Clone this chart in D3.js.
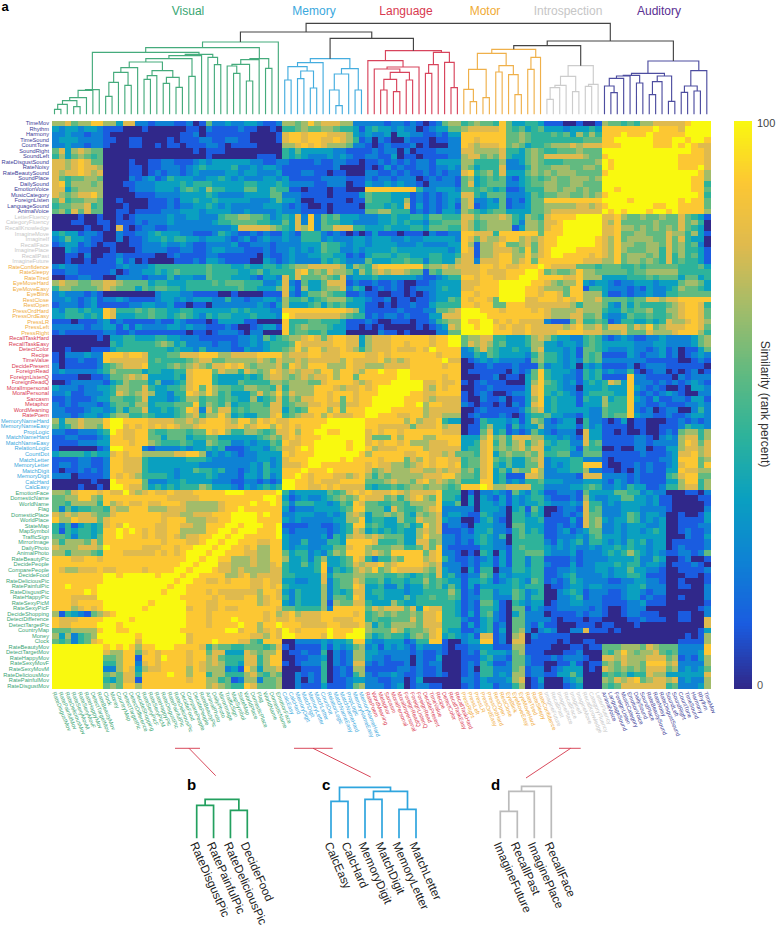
<!DOCTYPE html>
<html><head><meta charset="utf-8">
<script src="https://cdn.jsdelivr.net/npm/d3@7"></script>
<style>html,body{margin:0;padding:0;background:#fff}svg{display:block}text{font-family:"Liberation Sans",Arial,sans-serif}</style>
</head><body><svg id="c" width="776" height="927"></svg>
<script>
// ---------- labels, top-to-bottom as on the left axis ----------
const auditoryLabels = ["TimeMov","Rhythm","Harmony","TimeSound","CountTone","SoundRight","SoundLeft","RateDisgustSound","RateNoisy","RateBeautySound","SoundPlace","DailySound","EmotionVoice","MusicCategory","ForeignListen","LanguageSound","AnimalVoice"];
const introspectionLabels = ["LetterFluency","CategoryFluency","RecallKnowledge","ImagineMove","ImagineIf","RecallFace","ImaginePlace","RecallPast","ImagineFuture"];
const motorLabels = ["RateConfidence","RateSleepy","RateTired","EyeMoveHard","EyeMoveEasy","EyeBlink","RestClose","RestOpen","PressOrdHard","PressOrdEasy","PressLR","PressLeft","PressRight"];
const languageLabels = ["RecallTaskHard","RecallTaskEasy","DetectColor","Recipe","TimeValue","DecidePresent","ForeignRead","ForeignListenQ","ForeignReadQ","MoralImpersonal","MoralPersonal","Sarcasm","Metaphor","WordMeaning","RatePoem"];
const memoryLabels = ["MemoryNameHard","MemoryNameEasy","PropLogic","MatchNameHard","MatchNameEasy","RelationLogic","CountDot","MatchLetter","MemoryLetter","MatchDigit","MemoryDigit","CalcHard","CalcEasy"];
const visualLabels = ["EmotionFace","DomesticName","WorldName","Flag","DomesticPlace","WorldPlace","StateMap","MapSymbol","TrafficSign","MirrorImage","DailyPhoto","AnimalPhoto","RateBeautyPic","DecidePeople","ComparePeople","DecideFood","RateDeliciousPic","RatePainfulPic","RateDisgustPic","RateHappyPic","RateSexyPicM","RateSexyPicF","DecideShopping","DetectDifference","DetectTargetPic","CountryMap","Money","Clock","RateBeautyMov","DetectTargetMov","RateHappyMov","RateSexyMovF","RateSexyMovM","RateDeliciousMov","RatePainfulMov","RateDisgustMov"];

// ---------- similarity, one digit per cell (0 = lowest, 9 = highest rank decile) ----------
// Each row lists columns left to right; the matrix is mirrored across its anti-diagonal.
const auditoryRows = [
"667566 886637 722122 211201 522322 332112 665686 7776622 22212 21210 12566 456554 8533443 1110 01001 655454 667777 78999",
"323323 321110 001000 000110 211112 110010 445655 6654431 34332 32201 23355 677777 8545345 3332 33343 888888 889888 79998",
"223221 221000 000000 001120 111111 100001 788788 8777632 32230 33221 12133 888888 8556544 4545 36464 888988 898888 89998",
"233322 221100 110000 101112 211221 100001 788788 7787641 20210 02111 01122 887888 8556544 4444 44555 889999 998889 98998",
"223221 221000 110010 110111 221011 110000 667878 7666522 10121 11201 00022 876777 8565344 5666 76777 888999 998889 89998",
"573676 550000 000000 000010 111000 000000 435333 3322111 12122 02011 12222 776666 7443565 4455 56555 999999 999999 98887",
"463565 450000 000000 000000 100000 001110 434322 2323211 22113 01101 11122 677565 7433565 7777 77655 899999 999999 98887",
"776787 550000 100112 211123 233333 322112 211112 1122110 11212 12122 13333 664444 6223565 4445 55556 989999 999999 98888",
"776787 760000 110112 221234 333342 232332 111111 1120000 10131 21122 12232 653444 7222465 5666 55665 989999 999999 98887",
"767787 670000 110121 221232 222332 332223 111221 1011000 22112 12112 12122 784564 7333565 6566 65555 899999 999999 98887",
"754556 650000 212312 433322 334323 222332 311111 2222111 21221 22201 21221 563454 5213454 5655 66656 999999 999999 98887",
"784666 560001 122233 334344 433333 443334 322221 1222011 32232 32210 22221 573455 5223455 6655 66555 999999 999999 88887",
"773566 660000 122233 324543 644333 553354 411011 1011000 88888 88842 23332 554543 4112444 6656 65655 998999 999989 88873",
"765677 860000 011122 223333 432222 333355 222111 1011113 54443 33121 21233 774355 5222354 5566 55656 899999 999988 88876",
"574556 650010 000111 213343 343333 322235 332001 1111011 54443 36121 21232 672232 5121355 8888 88888 999999 998888 88873",
"455667 450001 000111 212233 432322 222333 212100 1011110 44434 37131 21231 671233 5122355 6666 67767 899999 988888 88886",
"564757 550011 011112 223332 333322 322223 222111 1011111 55664 44121 21332 654345 5333355 6777 77777 999999 988888 88885"
];
const introspectionRows = [
"000010 010010 122222 322332 224556 655423 437282 5453332 22334 33443 55444 775666 7643654 7888 89999",
"000110 011011 121222 322222 234455 554433 537282 5443322 22334 34332 44555 764566 6642665 7789 99999",
"000001 001071 012211 222222 222237 777765 437682 5577744 33343 33443 55544 764566 6613665 7889 99999",
"343312 210021 122343 332211 124321 121211 321444 2121010 13111 01110 21122 887774 8888885 8889 99999",
"235332 110020 112334 344332 333212 312322 322444 2322233 23332 23223 33332 875766 7886767 8899 99998",
"123312 101100 112223 223211 222231 122212 222333 5443233 23333 22232 22233 861667 8556757 8899 99999",
"003211 000100 012222 112211 233222 111212 232323 5442232 33334 33333 33323 871667 7765857 8999 99999",
"001102 001121 111100 121111 221111 110211 232233 4433121 34443 44333 44334 771667 8866867 8999 99999",
"001001 011131 201000 011121 332111 100321 232222 4343222 53334 45442 44336 772777 8867858 8999 99999"
];
const motorRows = [
"232211 111123 222344 444444 544433 433443 456677 7776365 47888 88885 66767 777887 8778889",
"112211 111201 223343 454444 544443 345344 447856 5766536 46767 76551 54666 777877 7888998",
"001122 110022 221222 423322 544433 321332 747555 6547233 34333 33321 12344 887887 7889988",
"676655 667765 555344 333444 454555 444223 721533 5777121 12112 10011 23333 777888 9999888",
"466555 567655 535455 443444 444445 443335 731633 5667243 01212 10122 23433 778888 9999878",
"232221 210000 000023 332211 110010 000111 721355 6544112 11001 10101 23333 887888 9998887",
"223212 312232 111123 323233 322422 122332 644534 5666433 21120 11011 23354 878875 9997878",
"122212 311111 223322 311011 022222 223213 633345 3545333 11010 11211 34444 887885 9998878",
"324434 338744 454544 334433 333343 433322 888888 8888763 11111 21112 25567 999888 8887878",
"334443 438733 344544 345432 434433 343332 987777 7776544 12122 12111 33777 999988 8887888",
"111011 123121 111121 132111 013333 110000 844455 4443111 21001 11011 24566 988777 7777777",
"222221 223313 132222 332322 111210 012331 845655 5433110 10100 00010 12376 998877 8777766",
"121111 112211 211111 111011 012221 022000 845544 5333000 00211 01000 02255 998877 7777766"
];
const languageRows = [
"000000 010334 433344 332221 111112 232534 566787 5788773 67778 88888 78899",
"000000 000434 444456 534222 212212 232344 458777 7788773 67778 87888 78898",
"001000 111344 444444 343324 222211 322344 568688 6778764 67778 77787 98878",
"102223 228887 887444 557778 886677 778888 677788 7778888 77878 88888 87787",
"101121 128777 777454 444567 755666 667657 667677 7776877 77867 67888 88878",
"201111 124567 778444 565676 577878 656667 587688 8666877 66677 77888 87876",
"232222 234655 553443 344788 857664 765687 676776 8868876 88988 99888 88788",
"111100 112556 767333 343788 843333 434677 656767 7868858 88888 99888 88876",
"001222 221346 555352 234788 843335 444466 566655 7888876 78889 99998 88787",
"322212 233466 557433 445785 865544 665547 466668 8876778 78999 99988 88877",
"223112 223476 567633 244876 864533 357568 576668 8788878 88999 99888 87786",
"112111 233554 457333 234664 554543 363457 465778 8785878 89999 99888 77887",
"212122 212455 466344 455584 654634 455477 456677 8775778 89999 88877 88776",
"221112 332353 557334 345872 757745 455577 354588 8685888 99998 88887 78887",
"222123 323566 445433 345674 668634 335578 456778 6877788 99988 88788 78886"
];
const memoryRows = [
"636676 668998 888777 766767 888768 868787 788888 8999999",
"534676 658997 878787 876678 888778 678868 787888 9999999",
"221122 234987 788544 555455 878644 665457 786889 9889998",
"112211 123887 788553 555344 553333 334565 787888 9999988",
"111122 233888 788654 445433 654422 323354 877889 9998888",
"100000 012998 882122 223233 434111 233245 778989 9987788",
"344443 433787 886666 677886 232321 223333 878889 9887778",
"111122 112887 774333 333444 322222 223323 788899 9887788",
"122122 112887 774333 333332 222222 232423 777899 9887887",
"101121 212887 774333 323354 434221 232433 888999 9888988",
"222011 112878 764444 323333 432221 332423 889999 9988888",
"000000 100988 885222 334333 322211 221212 999888 8888888",
"000010 010998 775343 434446 533321 323434 999888 8888878"
];
const visualRows = [
"665788 878779 767877 877788 888999 888889",
"556688 658888 888888 777778 888888 888998",
"554666 648678 778778 887666 667888 898888",
"525344 554766 888666 777666 667889 888877",
"767677 655788 888887 776677 788899 998888",
"866877 757888 888887 888666 778899 988886",
"424134 347879 888877 887766 888998 888876",
"414344 348898 987877 886666 889987 888776",
"554244 358898 887877 876778 899878 888676",
"646665 758888 888887 888778 998888 888877",
"766677 769888 887778 878899 988888 788877",
"664666 548887 777787 878999 888888 778765",
"888778 878888 888888 888998 888888 887876",
"888888 888888 888888 889988 888887 778777",
"876677 787788 887888 899888 888766 778666",
"888888 889989 999989 998888 888888 888787",
"888888 889999 999999 988888 878778 878888",
"889888 899999 999999 888888 888888 888888",
"888889 899999 999998 888888 787777 888776",
"888777 799999 999998 888888 788888 888777",
"888788 889999 999888 888877 877777 778775",
"888678 789999 998888 888887 887788 877765",
"614321 567899 998888 888787 788866 888876",
"877788 889999 888888 888888 888888 888888",
"877888 899989 988888 888888 877778 788887",
"555666 689989 888899 887666 778888 888766",
"636245 699988 888888 788668 888885 888876",
"545245 789988 888888 777767 788777 888786",
"99999999","9999999","999999","99999","9999","999","99","9"
];

// ---------- dendrogram merges: [height, left, right], 0 = leaf, leaves in left-to-right column order ----------
const visualTree = [217,
 [200,
  [186,
   [74,[72,[50,[41,[30,[15,0,0],0],[23,0,0]],0],0],0],
   [180,
    [176,
     [167,
      [157,
       [140,[126,[96,[54,0,0],0],[87,0,0]],0],
       [131,[116,[105,0,0],0],[111,[93,0,0],[81,0,0]]]],
      [114,0,0]],
     0],
    [171,0,[149,0,0]]]],
  [167,[164,[150,[145,0,[123,0,0]],[100,0,0]],0],[138,0,0]]],
 0];
const memoryTree = [167,
 [155,[143,[103,0,0],[130,[107,0,0],[79,0,0]]],0],
 [137,[121,[73,0,[26,0,0]],0],[73,0,0]]];
const languageTree = [191,
 [161,0,[142,[136,0,[126,[105,[73,0,0],[68,0,0]],[103,0,0]]],0]],
 [186,[149,[123,0,0],0],[156,0,[80,0,0]]]];
const motorTree = [195,
 [183,[135,[75,0,[38,0,0]],[50,0,0]],[146,[127,0,0],[119,0,[59,0,0]]]],
 [171,[135,0,0],0]];
const introspectionTree = [146,
 [114,[87,[80,[45,0,0],0],0],[68,0,0]],
 [90,[84,0,0],0]];
const auditoryTree = [160,
 [123,
  [117,[115,[108,[85,0,[65,0,0]],0],0],[94,0,0]],
  [115,[98,[59,0,0],0],[39,0,0]]],
 [131,[85,[66,0,0],[70,0,0]],0]];
const topHeights = {root:273, visualMemLang:247, memLang:228, rest:220, motorIntro:206};

const panelBLabels = ["RateDisgustPic","RatePainfulPic","RateDeliciousPic","DecideFood"];
const panelBTree = [39,[33,0,0],[28,0,0]];
const panelCLabels = ["CalcEasy","CalcHard","MemoryDigit","MatchDigit","MemoryLetter","MatchLetter"];
const panelCTree = [51,[37,0,0],[47,[39,0,0],[29,0,0]]];
const panelDLabels = ["ImagineFuture","RecallPast","ImaginePlace","RecallFace"];
const panelDTree = [52,[47,[27,0,0],0],0];

const clusterNames = ["Visual","Memory","Language","Motor","Introspection","Auditory"];
const clusterTitleColors = ["#37a673","#3aa8dd","#d8394f","#f0ab35","#c6c6c6","#5a2f92"];
const clusterLineColors = ["#45ab7c","#45addf","#d8445c","#efb04a","#cccccc","#4d4da0"];
const clusterLabelColors = ["#3aa574","#3aa8dd","#d93a52","#efab3c","#c6c6c6","#3c3c96"];
const colorStops = ["#30288a","#1a5ce0","#0e82d4","#0aa0c0","#2eb39a","#62ba80","#a2bc6a","#dfba4e","#fcc733","#f9f90f"];

// ---------- assembly ----------
const rowLabels = [...auditoryLabels,...introspectionLabels,...motorLabels,...languageLabels,...memoryLabels,...visualLabels];
const colLabels = rowLabels.slice().reverse();
const rows = [...auditoryRows,...introspectionRows,...motorRows,...languageRows,...memoryRows,...visualRows].map(s=>s.replace(/ /g,""));
const N = rowLabels.length;
function value(r,c){
  if(r+c>N-1){const r2=N-1-c,c2=N-1-r;r=r2;c=c2;}
  return (+rows[r][c]||0)*100/9;
}
const clusterOf = {};
[visualLabels,memoryLabels,languageLabels,motorLabels,introspectionLabels,auditoryLabels].forEach((g,i)=>g.forEach(l=>clusterOf[l]=i));

const svg = d3.select("#c");
const x = d3.scaleBand().domain(colLabels).range([52.3,710.3]);
const y = d3.scaleBand().domain(rowLabels).range([120.5,688.3]);
const color = d3.scaleLinear().domain(colorStops.map((_,i)=>i*100/9)).range(colorStops).clamp(true);

// heat map
const cells = [];
rowLabels.forEach((rl,r)=>colLabels.forEach((cl,c)=>cells.push({rl,cl,v:value(r,c)})));
svg.append("g").attr("shape-rendering","crispEdges").selectAll("rect").data(cells).join("rect")
  .attr("x",d=>x(d.cl)).attr("y",d=>y(d.rl)).attr("width",x.bandwidth()+.3).attr("height",y.bandwidth()+.3)
  .attr("fill",d=>color(d.v));

// axis labels
const axisFont = 5.7;
svg.append("g").selectAll("text").data(rowLabels).join("text")
  .attr("x",49).attr("y",d=>y(d)+y.bandwidth()/2).attr("dy","0.35em").attr("text-anchor","end")
  .attr("font-size",axisFont).attr("fill",d=>clusterLabelColors[clusterOf[d]]).text(d=>d);
svg.append("g").selectAll("text").data(colLabels).join("text")
  .attr("transform",d=>`translate(${x(d)+x.bandwidth()/2-1.5},692) rotate(68)`).attr("dy","0.35em")
  .attr("font-size",axisFont).attr("fill",d=>clusterLabelColors[clusterOf[d]]).text(d=>d);

// dendrogram
function layout(tree,xs,state){
  if(tree===0){return {x:xs(state.i++),h:0,segs:[]};}
  const [h,a,b]=tree;
  const A=layout(a,xs,state),B=layout(b,xs,state);
  const seg={h,x0:A.x,x1:B.x,h0:A.h,h1:B.h};
  return {x:(A.x+B.x)/2,h,segs:[...A.segs,...B.segs,seg]};
}
function drawSegs(g,segs,yS,col,sw){
  const path=d3.path();
  segs.forEach(s=>{
    path.moveTo(s.x0,yS(s.h0));path.lineTo(s.x0,yS(s.h));path.lineTo(s.x1,yS(s.h));path.lineTo(s.x1,yS(s.h1));
  });
  g.append("path").attr("d",path.toString()).attr("fill","none").attr("stroke",col).attr("stroke-width",sw);
}
const dendX = d3.scaleLinear().domain([0,N-1]).range([54.5,706.8]);
const dendY = d3.scaleLinear().domain([0,topHeights.root]).range([114.3,23.3]);
const dg = svg.append("g");
const st = {i:0};
const parts = [visualTree,memoryTree,languageTree,motorTree,introspectionTree,auditoryTree].map((t,i)=>{
  const p=layout(t,dendX,st);drawSegs(dg,p.segs,dendY,clusterLineColors[i],1.15);return p;});
const join=(h,a,b)=>({x:(a.x+b.x)/2,h,tops:[...(a.tops||[]),...(b.tops||[]),{h,x0:a.x,x1:b.x,h0:a.h,h1:b.h}]});
const memLang=join(topHeights.memLang,parts[1],parts[2]);
const left=join(topHeights.visualMemLang,parts[0],memLang);
const motorIntro=join(topHeights.motorIntro,parts[3],parts[4]);
const right=join(topHeights.rest,motorIntro,parts[5]);
const root=join(topHeights.root,left,right);
drawSegs(dg,root.tops,dendY,"#444",1.15);

// cluster titles
const titleX = [188,314,406,485,568,659];
svg.append("g").selectAll("text").data(clusterNames).join("text")
  .attr("x",(d,i)=>titleX[i]).attr("y",14.5).attr("text-anchor","middle").attr("font-size",12)
  .attr("fill",(d,i)=>clusterTitleColors[i]).text(d=>d);

// colour bar
const barY = d3.scaleLinear().domain([0,100]).range([688.3,120.5]);
const barVals = d3.range(0,100,0.5);
svg.append("g").attr("shape-rendering","crispEdges").selectAll("rect").data(barVals).join("rect")
  .attr("x",734).attr("width",17.8).attr("y",d=>barY(d+0.5)).attr("height",d=>barY(d)-barY(d+0.5)+.4).attr("fill",d=>color(d));
svg.append("g").selectAll("text").data([0,100]).join("text")
  .attr("x",757).attr("y",d=>barY(d)).attr("dy",d=>d?"0.55em":"0.1em").attr("font-size",11).attr("fill",d=>d?"#444":"#555").text(d=>d);
svg.append("text").attr("transform","translate(761,404) rotate(90)").attr("text-anchor","middle")
  .attr("font-size",12).attr("fill","#333").text("Similarity (rank percent)");

// red pointers
const pointerHoriz = [[175,200],[294,332.7],[559,580.7]];
const pointerDiag = [[189,748.3,215.7,775.7],[313,748.3,370.7,777],[570.7,748.3,526,778]];
svg.append("g").selectAll("path").data(d3.range(3)).join("path")
  .attr("d",i=>`M${pointerHoriz[i][0]},748.3H${pointerHoriz[i][1]}M${pointerDiag[i][0]},${pointerDiag[i][1]}L${pointerDiag[i][2]},${pointerDiag[i][3]}`)
  .attr("fill","none").attr("stroke","#d4354a").attr("stroke-width",0.9);

// inset panels
function panel(tree,labels,x0,x1,col){
  const xs=d3.scaleLinear().domain([0,labels.length-1]).range([x0,x1]);
  const ys=d3.scaleLinear().domain([0,52]).range([838.3,786.3]);
  const g=svg.append("g");
  drawSegs(g,layout(tree,xs,{i:0}).segs,ys,col,1.7);
  g.selectAll("text").data(labels).join("text")
    .attr("transform",(d,i)=>`translate(${xs(i)-3},842.5) rotate(66)`).attr("dy","0.35em")
    .attr("font-size",11.8).attr("fill","#222").text(d=>d);
}
panel(panelBTree,panelBLabels,196.7,247.3,"#23a05f");
panel(panelCTree,panelCLabels,331,416,"#2fa5de");
panel(panelDTree,panelDLabels,500.3,551.3,"#bbbbbb");

// panel letters
const letters = ["a","b","c","d"], letterX=[1.5,187,322,491], letterY=[10.5,790,790,790], letterS=[13,15,15,15];
svg.append("g").selectAll("text").data(letters).join("text")
  .attr("x",(d,i)=>letterX[i]).attr("y",(d,i)=>letterY[i]).attr("font-size",(d,i)=>letterS[i])
  .attr("font-weight","bold").attr("fill","#000").text(d=>d);
</script></body></html>
